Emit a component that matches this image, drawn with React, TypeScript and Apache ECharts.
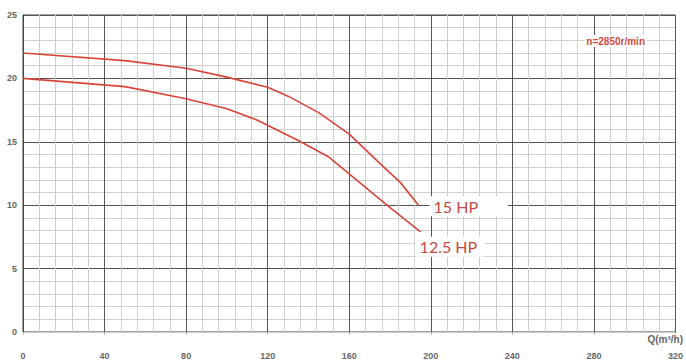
import React, { useEffect, useRef } from "react";
import * as echarts from "echarts";

const xTicks = [0, 40, 80, 120, 160, 200, 240, 280, 320];
const hp15Q = [0, 50, 80, 100, 120, 130, 145, 160, 175, 185, 194];
const hp15H = [22, 21.4, 20.8, 20.1, 19.3, 18.6, 17.3, 15.6, 13.3, 11.8, 10.0];
const hp125Q = [0, 50, 80, 100, 115, 135, 150, 165, 180, 195];
const hp125H = [20, 19.35, 18.4, 17.6, 16.7, 15.1, 13.8, 11.8, 9.8, 7.9];
const speedLabel = "n=2850r/min";
const xName = "Q(m³/h)";

const RED = "#d9443a";
const LABEL_RED = "#c24a40";

export default function App() {
  const ref = useRef<HTMLDivElement>(null);
  useEffect(() => {
    if (!ref.current) return;
    const chart = echarts.init(ref.current, null, { renderer: "svg" });
    const mk = (q: number[], h: number[], name: string, pad: number[], offset: number[]) => ({
      type: "line",
      name,
      data: q.map((v, i) => [v, h[i]]),
      showSymbol: false,
      symbol: "none",
      smooth: false,
      z: 5,
      lineStyle: { color: RED, width: 1.6 },
      endLabel: {
        show: true,
        formatter: name,
        color: LABEL_RED,
        fontSize: 16,
        fontFamily: "Lato, sans-serif",
        backgroundColor: "#fff",
        padding: pad,
        distance: 6,
        offset,
      },
    });
    chart.setOption({
      animation: false,
      backgroundColor: "#fff",
      grid: {
        left: 23,
        right: 6,
        top: 15,
        bottom: 31,
        show: true,
        borderColor: "#444",
        borderWidth: 1,
        containLabel: false,
      },
      xAxis: {
        type: "value",
        min: xTicks[0],
        max: xTicks[xTicks.length - 1],
        interval: 40,
        offset: 15,
        axisLine: { show: true, lineStyle: { color: "#ccc" } },
        axisTick: { show: true, length: 3, lineStyle: { color: "#bbb" } },
        axisLabel: { color: "#666", fontSize: 9, fontWeight: "bold", margin: 4 },
        splitLine: { show: true, lineStyle: { color: "#555", width: 1 } },
        minorTick: { show: false, splitNumber: 5 },
        minorSplitLine: { show: true, lineStyle: { color: "#cfcfcf", width: 1 } },
      },
      yAxis: {
        type: "value",
        min: 0,
        max: 25,
        interval: 5,
        axisLine: { show: true, lineStyle: { color: "#444" } },
        axisTick: { show: false },
        axisLabel: { color: "#666", fontSize: 9, fontWeight: "bold", margin: 6 },
        splitLine: { show: true, lineStyle: { color: "#555", width: 1 } },
        minorTick: { show: false, splitNumber: 5 },
        minorSplitLine: { show: true, lineStyle: { color: "#cfcfcf", width: 1 } },
      },
      graphic: [
        {
          type: "text",
          right: 39,
          top: 35,
          z: 100,
          style: {
            text: speedLabel,
            fill: "#d04a40",
            fontSize: 10,
            fontWeight: "bold",
            fontFamily: "Arial, Liberation Sans, sans-serif",
            backgroundColor: "#fff",
            padding: [1, 2],
          },
        },
        {
          type: "text",
          right: 3,
          top: 334,
          z: 100,
          style: {
            text: xName,
            fill: "#666",
            fontSize: 10,
            fontWeight: "bold",
            fontFamily: "Arial, Liberation Sans, sans-serif",
            backgroundColor: "#fff",
          },
        },
      ],
      series: [
        mk(hp15Q, hp15H, "15 HP", [2, 30, 2, 4], [5, 1]),
        mk(hp125Q, hp125H, "12.5 HP", [2, 8, 2, 4], [-11, 15]),
      ],
    });
    return () => chart.dispose();
  }, []);
  return (
    <div style={{ position: "fixed", left: 0, top: 0, width: 686, height: 363 }}>
      <div ref={ref} style={{ width: 686, height: 363 }} />
    </div>
  );
}
